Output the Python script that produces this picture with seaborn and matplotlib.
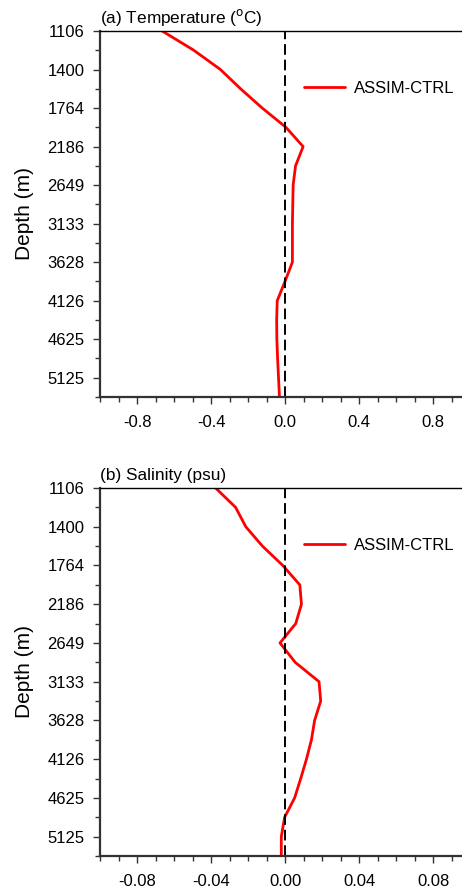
import matplotlib
matplotlib.use("Agg")
import matplotlib.pyplot as plt
from matplotlib.ticker import MultipleLocator, FixedLocator
import seaborn as sns
import numpy as np

# model levels (m), labelled every other level
depth_labels = ["1106", "1400", "1764", "2186", "2649", "3133", "3628", "4126", "4625", "5125"]
levels = np.arange(20)

# ASSIM - CTRL differences at each level
temp_diff = [-0.664, -0.493, -0.349, -0.240, -0.123, 0.005, 0.098, 0.057, 0.044, 0.042,
             0.040, 0.040, 0.040, 0.000, -0.042, -0.045, -0.044, -0.040, -0.035, -0.030]
salt_diff = [-0.0375, -0.0267, -0.0212, -0.0122, -0.0012, 0.0080, 0.0089, 0.0058, -0.0027, 0.0055,
             0.0184, 0.0193, 0.0160, 0.0143, 0.0116, 0.0085, 0.0052, -0.0002, -0.0020, -0.0020]

sns.set_theme(style="ticks", rc={"text.color": "black", "axes.labelcolor": "black",
                                 "xtick.labelcolor": "black", "ytick.labelcolor": "black"})
plt.rcParams["font.family"] = ["Liberation Sans", "DejaVu Sans"]

fig = plt.figure(figsize=(4.62, 8.92), dpi=100)
W, H = 462, 892

def make_panel(top, bottom, values, xmax, major, minor, fmt, title):
    ax = fig.add_axes([100 / W, 1 - bottom / H, 370 / W, (bottom - top) / H])
    sns.lineplot(x=values, y=levels, sort=False, estimator=None, color="red",
                 lw=2.0, label="ASSIM-CTRL", ax=ax)
    ax.axvline(0, color="black", lw=1.4, ls=(0, (5.5, 2.5)))
    ax.set_ylim(19, 0)
    ax.xaxis.set_major_locator(MultipleLocator(major))
    ax.xaxis.set_minor_locator(MultipleLocator(minor))
    ax.yaxis.set_major_locator(FixedLocator(levels[::2]))
    ax.yaxis.set_minor_locator(FixedLocator(levels[1::2]))
    ax.set_yticklabels(depth_labels)
    ticks = np.arange(-2, 3) * major
    ax.set_xticks(ticks)
    ax.set_xticklabels([fmt.format(abs(t)) if abs(t) < 1e-9 else fmt.format(t) for t in ticks])
    ax.set_xlim(-xmax, xmax)
    ax.tick_params(axis="both", which="major", length=5, width=1, labelsize=12,
                   color="#333333", pad=6)
    ax.tick_params(axis="both", which="minor", length=3.5, width=1, color="#333333")
    ax.tick_params(axis="x", pad=8)
    for s in ["left", "bottom"]:
        ax.spines[s].set_linewidth(1.6)
        ax.spines[s].set_color("#333333")
    ax.spines["top"].set_linewidth(1.0)
    ax.spines["top"].set_color("black")
    ax.spines["right"].set_visible(False)
    ax.set_xlabel("")
    ax.set_ylabel("Depth (m)", fontsize=15, labelpad=10)
    ax.set_title(title, loc="left", fontsize=12.4, pad=6)
    ax.legend(loc="upper left", bbox_to_anchor=(0.511, 0.905), frameon=False,
              fontsize=12, handlelength=2.45, handletextpad=0.55)
    return ax

make_panel(31, 397, temp_diff, 1.0, 0.4, 0.1, "{:.1f}", r"(a) Temperature ($^{\mathrm{o}}$C)")
make_panel(488, 856, salt_diff, 0.1, 0.04, 0.01, "{:.2f}", "(b) Salinity (psu)")

fig.savefig("out.png", dpi=100)
